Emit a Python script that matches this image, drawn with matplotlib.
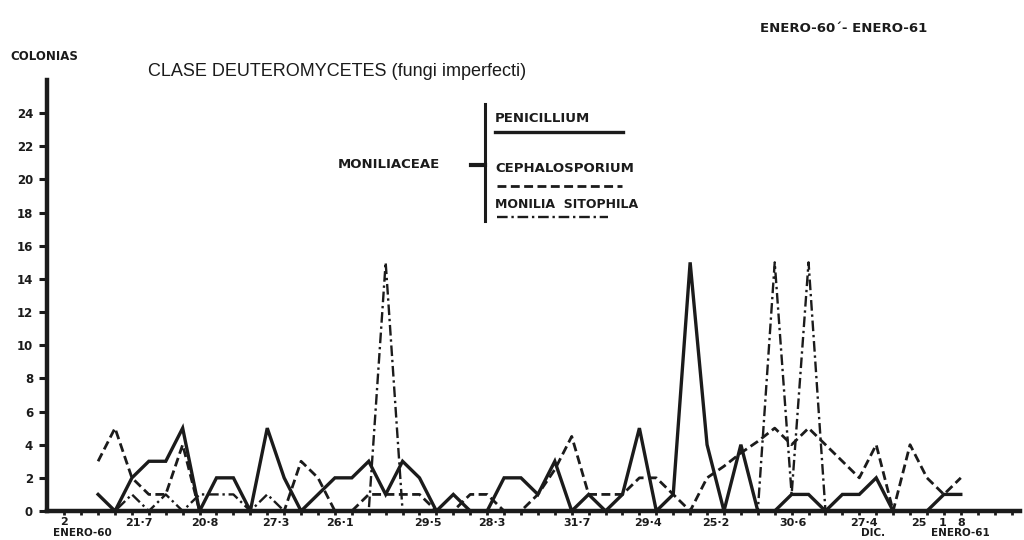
import matplotlib
matplotlib.use("Agg")
import matplotlib.pyplot as plt
from matplotlib.lines import Line2D

# weekly samples, index 0 = 2 ENERO-60
weeks = list(range(2, 54))
penicillium = [1, 0, 2, 3, 3, 5, 0, 2, 2, 0, 5, 2, 0, 1, 2, 2, 3, 1, 3, 2,
               0, 1, 0, 0, 2, 2, 1, 3, 0, 1, 0, 1, 5, 0, 1, 15, 4, 0, 4, 0,
               0, 1, 1, 0, 1, 1, 2, 0, 0, 0, 1, 1]
cephalosporium = [3, 5, 2, 1, 1, 4, 0, 0, 0, 0, 0, 0, 3, 2, 0, 0, 1, 1, 1, 1,
                  0, 0, 1, 1, 0, 0, 1, 2.5, 4.5, 1, 1, 1, 2, 2, 1, 0, 2, 2.7, 3.5, 4.2,
                  5, 4, 5, 4, 3, 2, 4, 0, 4, 2, 1, 2]
monilia = [0, 0, 1, 0, 1, 0, 1, 1, 1, 0, 1, 0, 0, 0, 0, 0, 0, 15, 0, 0,
           0, 0, 0, 0, 0, 0, 0, 0, 0, 0, 0, 0, 0, 0, 0, 0, 0, 0, 0, 0,
           15, 1, 15, 0, 0, 0, 0, 0, 0, 0, 0, 0]

y_ticks = list(range(0, 26, 2))
date_pos = [4.4, 8.3, 12.5, 16.3, 21.5, 25.3, 30.3, 34.5, 38.5, 43.1, 47.3, 50.5, 51.9, 53.0]
date_lab = ["21·7", "20·8", "27·3", "26·1", "29·5", "28·3", "31·7", "29·4",
            "25·2", "30·6", "27·4", "25", "1", "8"]

ink = "#1b1b1b"
fig = plt.figure(figsize=(10.24, 5.4), dpi=100)
ax = fig.add_axes([47 / 1024, 29 / 540, 973 / 1024, 431 / 540])

solid_kw = dict(color=ink, lw=2.4, solid_joinstyle="miter")
dash_kw = dict(color=ink, lw=2.0, linestyle=(0, (3.2, 1.6)))
dot_kw = dict(color=ink, lw=1.7, linestyle=(0, (4.5, 1.6, 1.0, 1.6)))

ax.plot(weeks, monilia, **dot_kw)
ax.plot(weeks, cephalosporium, **dash_kw)
ax.plot(weeks, penicillium, **solid_kw)

ax.set_xlim(-1.02, 56.5)
ax.set_ylim(0, 26)
for s in ["top", "right"]:
    ax.spines[s].set_visible(False)
for s in ["left", "bottom"]:
    ax.spines[s].set_linewidth(3.2)
    ax.spines[s].set_color(ink)

ax.set_yticks(y_ticks)
ax.set_yticklabels([str(v) for v in y_ticks], fontsize=8.5, fontweight="bold", color=ink)
ax.tick_params(axis="y", length=6, width=2.2, pad=4, color=ink)
ax.set_xticks([])
ax.set_xticks(list(range(0, 57)), minor=True)
ax.tick_params(axis="x", which="minor", length=3, width=2, color=ink, direction="out")

bt = ax.get_xaxis_transform()
for p, lab in zip(date_pos, date_lab):
    ax.text(p, -0.028, lab, transform=bt, ha="center", va="center",
            fontsize=8, fontweight="bold", color=ink)
ax.text(0, -0.026, "2", transform=bt, ha="center", va="center", fontsize=8,
        fontweight="bold", color=ink)
ax.text(1.05, -0.052, "ENERO-60", transform=bt, ha="center", va="center", fontsize=7.5,
        fontweight="bold", color=ink)
ax.text(47.8, -0.05, "DIC.", transform=bt, ha="center", va="center", fontsize=7.5,
        fontweight="bold", color=ink)
ax.text(53.0, -0.05, "ENERO-61", transform=bt, ha="center", va="center", fontsize=7.5,
        fontweight="bold", color=ink)

# texts in figure pixels
def ftxt(x, y, s, **kw):
    fig.text(x / 1024, 1 - y / 540, s, color=ink, **kw)

ftxt(148, 72, "CLASE DEUTEROMYCETES (fungi imperfecti)", fontsize=13,
     va="center", ha="left", family="Liberation Sans")
ftxt(10, 57, "COLONIAS", fontsize=8.5, fontweight="bold", va="center")
ftxt(760, 28, "ENERO-60´- ENERO-61", fontsize=9.5, fontweight="bold", va="center",
     ha="left")

# legend bracket
def fline(xs, ys, **kw):
    fig.add_artist(Line2D([x / 1024 for x in xs], [1 - y / 540 for y in ys], **kw))

fline([485, 485], [104, 221], color=ink, lw=2.2)
fline([471, 485], [165, 165], color=ink, lw=3)
ftxt(338, 164, "MONILIACEAE", fontsize=9.5, fontweight="bold", va="center")
ftxt(495, 119, "PENICILLIUM", fontsize=9.5, fontweight="bold", va="center")
fline([495, 623], [132, 132], **solid_kw)
ftxt(495, 168, "CEPHALOSPORIUM", fontsize=9.5, fontweight="bold", va="center")
fline([497, 622], [186, 186], **dash_kw)
ftxt(495, 205, "MONILIA  SITOPHILA", fontsize=9, fontweight="bold", va="center")
fline([497, 608], [217, 217], **dot_kw)

fig.savefig("out.png", dpi=100, facecolor="white")
